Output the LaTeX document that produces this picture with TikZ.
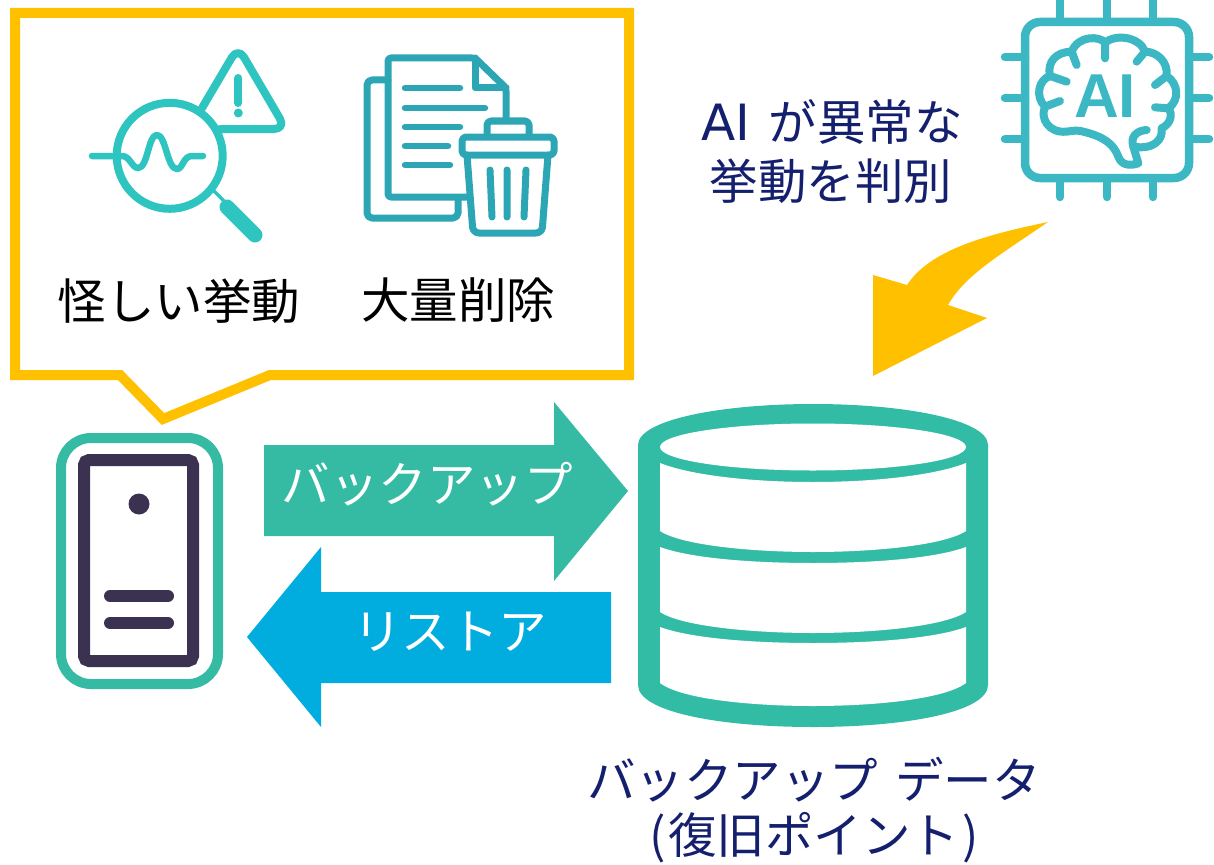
\documentclass[tikz,border=0pt]{standalone}
\usepackage{fontspec}
\setmainfont{DejaVu Sans}
\newfontfamily\jp{Noto Sans CJK JP}
\newfontfamily\lat{DejaVu Sans}
\newfontfamily\iconfont{Liberation Sans}
\definecolor{gold}{HTML}{FFC000}
\definecolor{lens}{HTML}{2EC4C0}
\definecolor{bin}{HTML}{2CA6B4}
\definecolor{chip}{HTML}{3BB8C4}
\definecolor{mint}{HTML}{35BBA4}
\definecolor{drum}{HTML}{32BCA5}
\definecolor{sky}{HTML}{00ADDE}
\definecolor{dark}{HTML}{3A3250}
\definecolor{navy}{HTML}{14206E}
\tikzset{
  icon/.style={line cap=round,line join=round},
  label/.style={font=\fontsize{48.5}{48.5}\selectfont\jp,inner sep=0pt,anchor=center},
}
\begin{document}
\begin{tikzpicture}[x=1pt,y=-1pt]
\useasboundingbox (0,0) rectangle (1214,864);
% callout
\draw[gold,line width=10pt,miter limit=10] (15,13) -- (629,13) -- (629,375) -- (270,375) -- (163,419) -- (120,375) -- (15,375) -- cycle;
% magnifier
\begin{scope}[icon,lens,line width=8pt]
\draw[rounded corners=12pt] (202,108) -- (238,47) -- (286,129) -- (220,129);
\draw[line width=8pt] (169.7,155.8) circle (53);
\draw[line width=8pt] (238.3,78) -- (238.3,103);
\fill (238.3,113) circle (4.5);
\draw[line width=6.5pt] (92,156) -- (122,156) .. controls (130,156) and (132,168) .. (138,168) .. controls (148,168) and (148,135) .. (157,135) .. controls (166,135) and (167,169) .. (177,169) .. controls (183,169) and (183,156) .. (192,156) -- (203,156);
\draw[line width=3.5pt,line cap=butt] (214,191) -- (228,205);
\draw[line width=15pt] (227,207) -- (255,235);
\end{scope}
% document and bin
\begin{scope}[icon,bin,line width=7pt]
\draw[rounded corners=5pt] (388,80) -- (367,80) -- (367,218) -- (458,218) -- (458,198);
\draw[rounded corners=3pt] (468,197) -- (388,197) -- (388,58) -- (475,58) -- (506,88) -- (506,120);
\draw (475,58) -- (475,88) -- (506,88);
\draw[line width=6.5pt] (405,88) -- (460,88) (405,108) -- (485,108) (405,127) -- (460,127) (405,146) -- (448,146) (405,165) -- (450,165);
\draw[rounded corners=4pt] (487,137) -- (487,121) -- (529,121) -- (529,137);
\draw[rounded corners=4pt,fill=white] (462,137) -- (554,137) -- (554,155) -- (462,155) -- cycle;
\draw[rounded corners=6pt] (467,155) -- (473,233) -- (542,233) -- (548,155);
\draw (490,170) -- (492,217) (507,170) -- (507,217) (526,170) -- (524,217);
\end{scope}
% chip
\begin{scope}[icon,chip,line width=8.5pt]
\draw[rounded corners=15pt] (1025,22) rectangle (1189,178);
\draw (1060,0) -- (1060,20) (1107,0) -- (1107,20) (1153,0) -- (1153,20);
\draw (1060,180) -- (1060,197) (1107,180) -- (1107,197) (1153,180) -- (1153,197);
\draw (1005,57) -- (1025,57) (1005,98) -- (1025,98) (1005,139) -- (1025,139);
\draw (1189,57) -- (1209,57) (1189,98) -- (1209,98) (1189,139) -- (1209,139);
\begin{scope}[shift={(990,0)},x=0.3333pt,y=-0.3333pt,line width=8pt]
\draw (345,128) .. controls (330,108) and (265,105) .. (245,155)
  .. controls (200,155) and (170,185) .. (180,228)
  .. controls (145,240) and (135,290) .. (165,320)
  .. controls (150,355) and (175,400) .. (230,395)
  .. controls (250,392) and (265,390) .. (280,395)
  .. controls (340,410) and (370,430) .. (385,470)
  .. controls (395,497) and (420,498) .. (445,490)
  -- (430,440)
  .. controls (490,450) and (520,420) .. (515,385)
  .. controls (545,370) and (548,340) .. (535,325)
  .. controls (570,300) and (565,250) .. (530,228)
  .. controls (535,185) and (500,155) .. (465,155)
  .. controls (450,112) and (380,100) .. (345,128);
\draw (430,440) .. controls (420,410) and (440,392) .. (470,390);
\draw (345,128) -- (345,175) (245,155) -- (260,195) (465,155) -- (440,185) (180,228) -- (230,245) (165,320) -- (210,303) (530,228) -- (495,255) (535,325) -- (495,322);
\end{scope}
\node (ailogo) at (1105,96.5) [font=\fontsize{62}{62}\selectfont\iconfont\bfseries,inner sep=0pt,text=chip] {AI};
\end{scope}
% yellow arrow
\fill[gold] (873,376) -- (873,275) -- (907,285) .. controls (930,250) and (985,235) .. (1048,222) .. controls (1000,255) and (965,275) .. (948,305) -- (987,318) -- cycle;
% block arrows
\fill[mint] (264,445) -- (554,445) -- (554,402) -- (628,491) -- (554,581) -- (554,536) -- (264,536) -- cycle;
\fill[sky] (611,592) -- (321,592) -- (321,547) -- (247,637) -- (321,727) -- (321,683) -- (611,683) -- cycle;
% server
\draw[mint,line width=10pt,rounded corners=30pt] (61,438) rectangle (218,684);
\draw[dark,line width=12pt,rounded corners=5pt] (84,460) rectangle (193,661);
\fill[dark] (139,504) circle (10.5);
\draw[dark,line width=12pt,line cap=round] (110,596) -- (168,596) (110,623) -- (168,623);
% database
\fill[drum] (638,445) .. controls (638,420) and (720,404) .. (813,404) .. controls (906,404) and (988,420) .. (988,445)
  -- (988,685) .. controls (988,712) and (906,727) .. (813,727) .. controls (720,727) and (638,712) .. (638,685) -- cycle;
\fill[white] (813,447) ellipse[x radius=153,y radius=23.5];
\fill[white] (660,463) .. controls (690,475) and (750,482) .. (813,482) .. controls (876,482) and (936,475) .. (966,463)
  -- (966,531) .. controls (945,545) and (876,552) .. (813,552) .. controls (750,552) and (681,545) .. (660,531) -- cycle;
\fill[white] (660,547) .. controls (690,558) and (750,563) .. (813,563) .. controls (876,563) and (936,558) .. (966,547)
  -- (966,612) .. controls (945,626) and (876,633) .. (813,633) .. controls (750,633) and (681,626) .. (660,612) -- cycle;
\fill[white] (660,627) .. controls (690,638) and (750,643) .. (813,643) .. controls (876,643) and (936,638) .. (966,627)
  -- (966,683) .. controls (945,699) and (876,706) .. (813,706) .. controls (750,706) and (681,699) .. (660,683) -- cycle;
% texts
\node[label] (t1) at (179,301) {怪しい挙動};
\node[label] (t2) at (458,300) {大量削除};
\node[label,text=navy] (t3) at (832,122) {{\lat\fontsize{50}{50}\selectfont AI}\hspace{19pt}が異常な};
\node[label,text=navy] (t4) at (831,181) {挙動を判別};
\node[label,text=white] (t5) at (427,484) {バックアップ};
\node[label,text=white] (t6) at (450,632) {リストア};
\node[label,text=navy] (t7) at (814,780) {バックアップ\hspace{17pt}データ};
\node[label,text=navy] (t8) at (814,838) {(\hspace{3pt}復旧ポイント\hspace{3pt})};
\end{tikzpicture}
\end{document}
